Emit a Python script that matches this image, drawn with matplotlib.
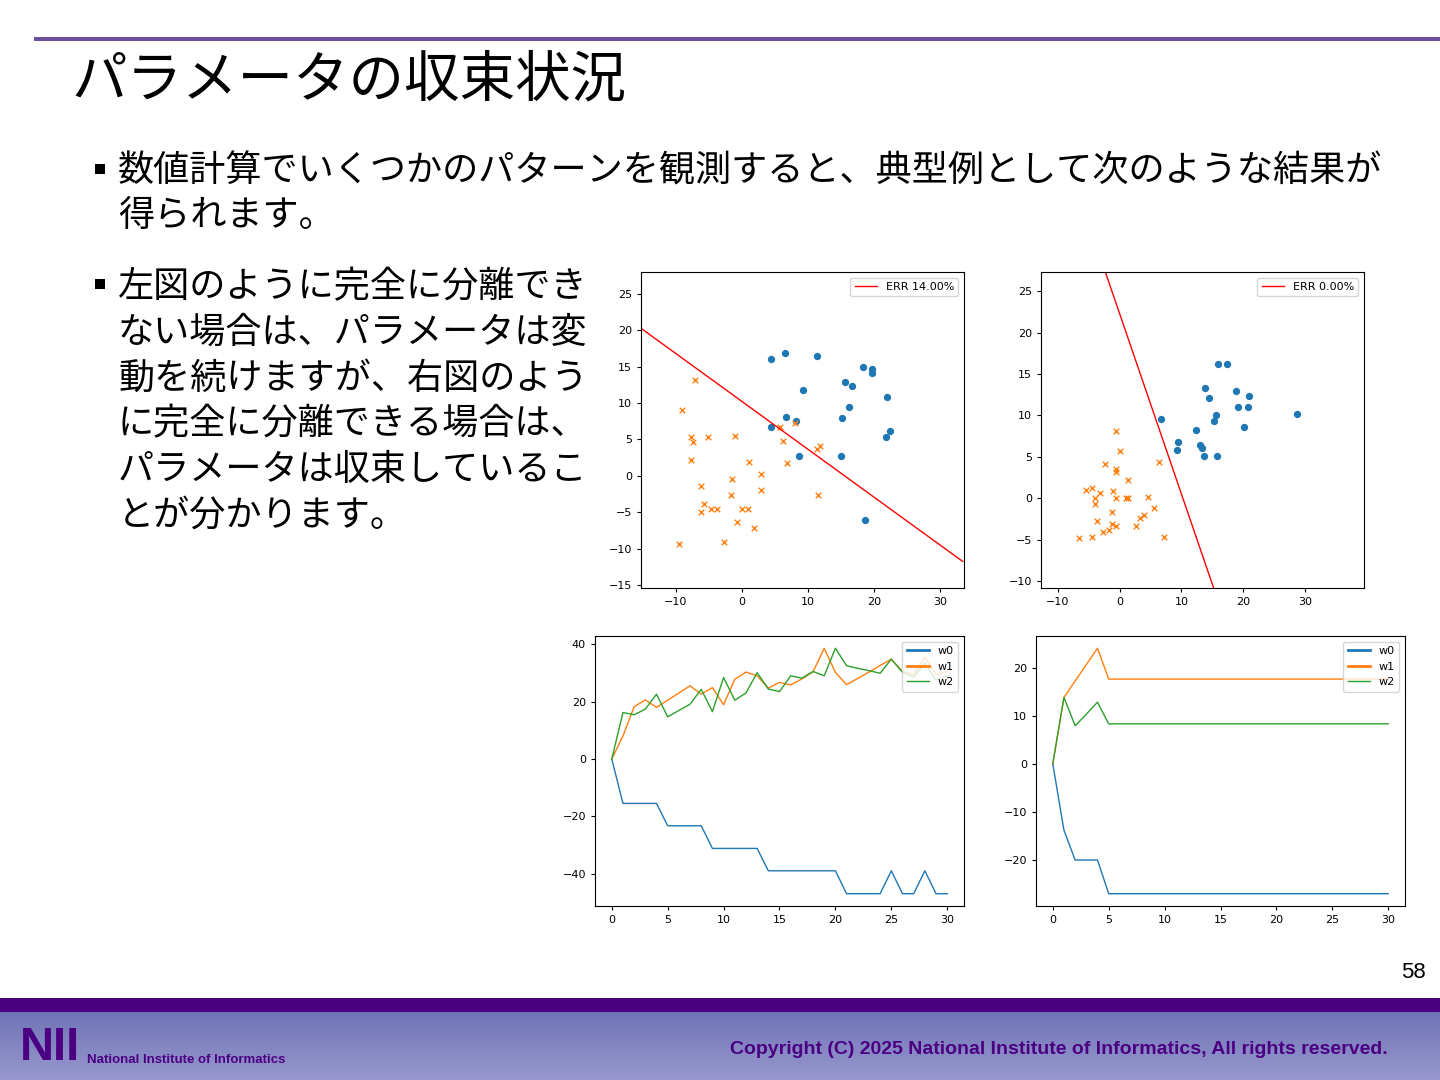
import numpy as np
import matplotlib.pyplot as plt
from matplotlib.patches import Rectangle

W, H = 1440, 1080
JP = ['Noto Sans CJK JP', 'DejaVu Sans']

# --- 左上: 分離できない場合 (点データ) ---
pos1_x = [4.45, 6.5, 11.4, 18.3, 19.6, 19.6, 15.6, 16.7, 9.2, 22.0,
          16.2, 15.1, 6.6, 8.1, 4.4, 21.8, 22.4, 8.6, 15.0, 18.6]
pos1_y = [16.1, 16.9, 16.5, 15.0, 14.7, 14.1, 12.9, 12.4, 11.8, 10.8,
          9.5, 7.9, 8.1, 7.5, 6.7, 5.4, 6.1, 2.7, 2.7, -6.0]
neg1_x = [-7.2, -9.1, -7.8, -7.5, -5.1, -1.1, -7.8, 1.0, 5.7, 8.0,
          6.2, 6.8, 11.3, 11.8, 2.8, -1.5, -6.2, 2.9, -1.6, 11.5,
          -5.8, -4.7, -3.8, -6.2, 0.0, 0.9, -0.7, 1.8, -2.8, -9.6]
neg1_y = [13.2, 9.1, 5.4, 4.7, 5.4, 5.5, 2.2, 1.9, 6.7, 7.2,
          4.8, 1.7, 3.7, 4.1, 0.3, -0.4, -1.4, -1.9, -2.6, -2.6,
          -3.9, -4.5, -4.5, -5.0, -4.5, -4.5, -6.3, -7.1, -9.1, -9.3]
sep1_x = [-15.5, 33.4]
sep1_y = [20.4, -11.75]
err1 = 'ERR 14.00%'

# --- 右上: 分離できる場合 (点データ) ---
pos2_x = [15.9, 17.3, 13.8, 14.5, 18.8, 20.9, 19.1, 20.7, 6.7, 15.6,
          15.3, 28.6, 20.1, 12.4, 9.5, 9.2, 13.0, 13.3, 13.7, 15.7]
pos2_y = [16.2, 16.2, 13.3, 12.1, 12.9, 12.4, 11.0, 11.0, 9.6, 10.0,
          9.3, 10.2, 8.6, 8.2, 6.8, 5.8, 6.5, 6.1, 5.1, 5.1]
neg2_x = [-0.5, 0.1, -2.3, -0.6, -0.6, 6.3, 1.3, -5.4, -4.4, -3.1,
          -1.0, -3.9, -3.9, -0.6, 1.0, 1.4, 4.6, 5.5, -1.2, 4.0,
          3.3, -3.7, -1.2, -0.6, 2.7, -1.7, -2.7, -4.4, -6.6, 7.1]
neg2_y = [8.1, 5.7, 4.1, 3.6, 3.2, 4.4, 2.2, 1.0, 1.2, 0.6,
          0.9, 0.0, -0.7, 0.0, 0.0, 0.0, 0.2, -1.2, -1.6, -2.0,
          -2.4, -2.7, -3.05, -3.3, -3.3, -3.8, -4.0, -4.6, -4.8, -4.6]
sep2_x = [-2.3, 15.2]
sep2_y = [27.3, -10.8]
err2 = 'ERR 0.00%'

# --- 下段: パラメータの推移 ---
steps = list(range(31))
w0_a = [0, -15.5, -15.5, -15.5, -15.5, -23.3, -23.3, -23.3, -23.3, -31.2,
        -31.2, -31.2, -31.2, -31.2, -39, -39, -39, -39, -39, -39,
        -39, -47, -47, -47, -47, -39, -47, -47, -39, -47, -47]
w1_a = [0, 8.0, 18.2, 20.6, 18.0, 20.5, 23.0, 25.5, 22.6, 24.9,
        18.9, 27.8, 30.3, 29.0, 24.7, 26.7, 25.8, 27.9, 30.4, 38.6,
        30.2, 25.9, 28.1, 30.3, 32.6, 34.8, 30.5, 29.5, 35.5, 29.5, 30.5]
w2_a = [0, 16.2, 15.4, 17.4, 22.6, 14.7, 16.9, 19.1, 24.3, 16.5,
        28.4, 20.5, 23.0, 30.1, 24.4, 23.5, 29.0, 28.2, 30.5, 29.0,
        38.6, 32.5, 31.6, 30.8, 29.9, 34.8, 30.2, 28.6, 33.5, 27.5, 29.0]

w0_b = [0, -13.8, -20.0, -20.0, -20.0] + [-27.0] * 26
w1_b = [0, 13.8, 17.2, 20.6, 24.0] + [17.6] * 26
w2_b = [0, 13.8, 7.9, 10.3, 12.8] + [8.3] * 26


def box(l, t, r, b):
    return [l / W, 1 - b / H, (r - l) / W, (b - t) / H]


fig = plt.figure(figsize=(14.4, 10.8), dpi=100)

# スライドの飾り
fig.add_artist(Rectangle((34 / W, 1 - 41 / H), 1, 4 / H, color='#6b4f9c', lw=0))
fig.text(71 / W, 1 - 81 / H, 'パラメータの収束状況', fontsize=40, family=JP,
         va='center', ha='left')

lines1 = ['数値計算でいくつかのパターンを観測すると、典型例として次のような結果が',
          '得られます。']
lines2 = ['左図のように完全に分離でき', 'ない場合は、パラメータは変',
          '動を続けますが、右図のよう', 'に完全に分離できる場合は、',
          'パラメータは収束しているこ', 'とが分かります。']
for i, s in enumerate(lines1):
    fig.text(118 / W, 1 - (171 + 45 * i) / H, s, fontsize=26, family=JP, va='center')
for i, s in enumerate(lines2):
    fig.text(118 / W, 1 - (287 + 45.8 * i) / H, s, fontsize=26, family=JP, va='center')
for yc in [169, 284]:
    fig.add_artist(Rectangle((95 / W, 1 - (yc + 5) / H), 10 / W, 10 / H,
                             color='black', lw=0))

fig.text(1426 / W, 1 - 972 / H, '58', fontsize=16, family='Liberation Sans',
         ha='right', va='center')

# フッター
fig.add_artist(Rectangle((0, 1 - 1012 / H), 1, 14 / H, color='#4b0080', lw=0))
fax = fig.add_axes([0, 0, 1, 68 / H])
grad = np.linspace(0, 1, 100).reshape(-1, 1)
top_c = np.array([112, 116, 182]) / 255
bot_c = np.array([152, 152, 206]) / 255
img = top_c + (bot_c - top_c) * grad[:, :, None]
fax.imshow(img, aspect='auto', extent=[0, 1, 0, 1])
fax.axis('off')
fig.text(20 / W, 1 - 1048 / H, 'NII', fontsize=34, fontweight='bold',
         family='Liberation Sans', color='#4b0082', va='center')
fig.text(87 / W, 1 - 1060 / H, 'National Institute of Informatics', fontsize=9.5,
         fontweight='bold', family='Liberation Sans', color='#4b0082', va='center')
fig.text(1388 / W, 1 - 1050 / H,
         'Copyright (C) 2025 National Institute of Informatics, All rights reserved.',
         fontsize=14, fontweight='bold', family='Liberation Sans', color='#4b0082',
         ha='right', va='center')

# 散布図
ax1 = fig.add_axes(box(641, 272, 964, 588))
ax1.scatter(pos1_x, pos1_y, s=18, marker='o', color='C0')
ax1.scatter(neg1_x, neg1_y, s=16, marker='x', color='C1', linewidths=1)
ax1.plot(sep1_x, sep1_y, color='red', lw=1, label=err1)
ax1.set_xlim(-15.3, 33.6)
ax1.set_ylim(-15.4, 28)
ax1.set_xticks([-10, 0, 10, 20, 30])
ax1.set_yticks([-15, -10, -5, 0, 5, 10, 15, 20, 25])
ax1.legend(loc='upper right', fontsize=8)

ax2 = fig.add_axes(box(1041, 272, 1364, 588))
ax2.scatter(pos2_x, pos2_y, s=18, marker='o', color='C0')
ax2.scatter(neg2_x, neg2_y, s=16, marker='x', color='C1', linewidths=1)
ax2.plot(sep2_x, sep2_y, color='red', lw=1, label=err2)
ax2.set_xlim(-12.7, 39.5)
ax2.set_ylim(-10.8, 27.3)
ax2.set_xticks([-10, 0, 10, 20, 30])
ax2.set_yticks([-10, -5, 0, 5, 10, 15, 20, 25])
ax2.legend(loc='upper right', fontsize=8)

# パラメータ推移
ax3 = fig.add_axes(box(595, 636, 964, 906))
ax3.plot(steps, w0_a, lw=1, label='w0')
ax3.plot(steps, w1_a, lw=1, label='w1')
ax3.plot(steps, w2_a, lw=1, label='w2')
ax3.set_yticks([-40, -20, 0, 20, 40])

ax4 = fig.add_axes(box(1036, 636, 1405, 906))
ax4.plot(steps, w0_b, lw=1, label='w0')
ax4.plot(steps, w1_b, lw=1, label='w1')
ax4.plot(steps, w2_b, lw=1, label='w2')
ax4.set_yticks([-20, -10, 0, 10, 20])

for ax in [ax3, ax4]:
    ax.set_xticks([0, 5, 10, 15, 20, 25, 30])
    leg = ax.legend(loc='upper right', fontsize=8)
    for h, lw in zip(leg.get_lines(), [2, 2, 1]):
        h.set_linewidth(lw)

for ax in [ax1, ax2, ax3, ax4]:
    ax.tick_params(labelsize=8, length=3, width=0.8)

fig.savefig('out.png', dpi=100)
